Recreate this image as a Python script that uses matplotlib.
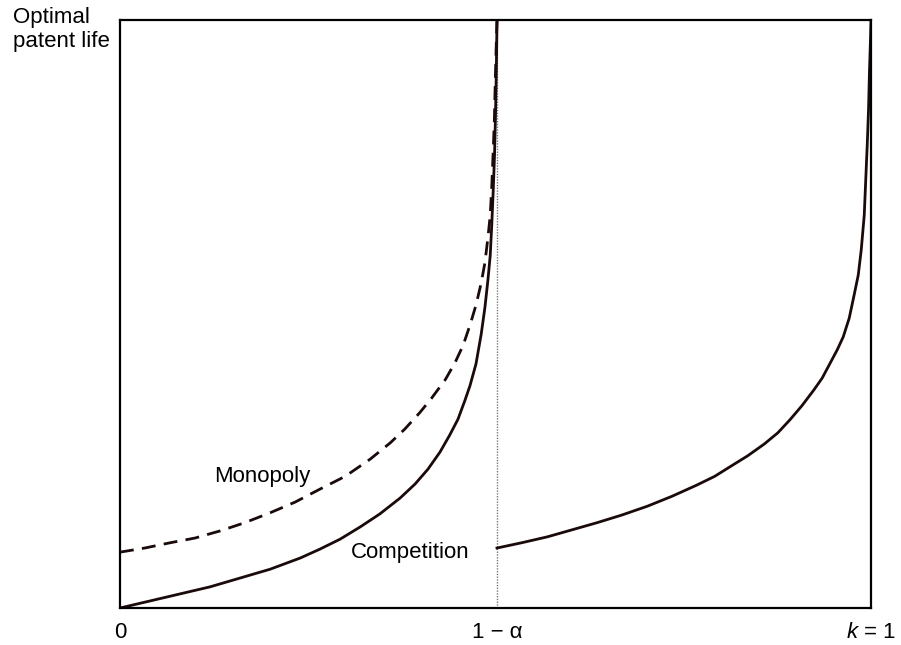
import matplotlib
matplotlib.use("Agg")
import matplotlib.pyplot as plt

plt.rcParams["font.family"] = ["Liberation Sans", "DejaVu Sans"]
plt.rcParams["mathtext.fontset"] = "custom"
plt.rcParams["mathtext.it"] = "Liberation Sans:italic"
plt.rcParams["mathtext.rm"] = "Liberation Sans"

# values (k on x, patent life on y, both scaled 0..1)
kink = 0.502  # position of 1 - alpha
comp_left_k = [0.0, 0.040, 0.080, 0.120, 0.160, 0.200, 0.240, 0.266, 0.293,
               0.320, 0.346, 0.373, 0.393, 0.410, 0.426, 0.439, 0.450, 0.459,
               0.466, 0.474, 0.481, 0.486, 0.490, 0.493, 0.495, 0.497, 0.4987,
               0.5, 0.501, 0.502]
comp_left_life = [0.0, 0.012, 0.024, 0.036, 0.051, 0.066, 0.085, 0.100, 0.117,
                  0.138, 0.160, 0.187, 0.211, 0.236, 0.265, 0.294, 0.321, 0.352,
                  0.378, 0.415, 0.466, 0.512, 0.559, 0.600, 0.651, 0.711, 0.770,
                  0.838, 0.906, 1.0]
mono_k = [0.0, 0.033, 0.067, 0.100, 0.133, 0.166, 0.200, 0.233, 0.266, 0.300,
          0.333, 0.360, 0.379, 0.399, 0.415, 0.433, 0.446, 0.457, 0.466, 0.474,
          0.481, 0.486, 0.490, 0.493, 0.495, 0.497, 0.4985, 0.4995, 0.5008,
          0.502]
mono_life = [0.095, 0.102, 0.111, 0.119, 0.131, 0.145, 0.162, 0.180, 0.202,
             0.224, 0.253, 0.281, 0.304, 0.332, 0.357, 0.388, 0.417, 0.447,
             0.481, 0.515, 0.553, 0.588, 0.631, 0.668, 0.716, 0.779, 0.830,
             0.886, 0.949, 1.0]
comp_right_k = [0.502, 0.535, 0.569, 0.602, 0.635, 0.668, 0.702, 0.735, 0.768,
                0.792, 0.812, 0.836, 0.858, 0.876, 0.892, 0.908, 0.924, 0.935,
                0.945, 0.955, 0.963, 0.971, 0.977, 0.983, 0.987, 0.991, 0.993,
                0.995, 0.9967, 0.998, 0.9993, 1.0]
comp_right_life = [0.102, 0.111, 0.121, 0.133, 0.145, 0.158, 0.173, 0.190,
                   0.209, 0.224, 0.240, 0.259, 0.279, 0.298, 0.320, 0.344,
                   0.371, 0.391, 0.415, 0.439, 0.461, 0.493, 0.529, 0.566,
                   0.609, 0.668, 0.728, 0.788, 0.847, 0.915, 0.966, 1.0]
tick_pos = [0, kink, 1]
tick_labels = ["0", "1 \u2212 \u03b1", "$k$ = 1"]

fig = plt.figure(figsize=(9.01, 6.45), dpi=100)
ax = fig.add_axes([120 / 901, 37 / 645, 751 / 901, 588 / 645])

ax.axvline(kink, color="#777777", lw=1, ls=(0, (1, 1)))
ax.plot(comp_left_k, comp_left_life, color="#1a0a0a", lw=2)
ax.plot(comp_right_k, comp_right_life, color="#1a0a0a", lw=2)
ax.plot(mono_k, mono_life, color="#1a0a0a", lw=2, ls=(0, (5, 3)))

ax.text(0.189, 0.223, "Monopoly", fontsize=16, ha="center", va="center")
ax.text(0.387, 0.095, "Competition", fontsize=16, ha="center", va="center")

ax.set_xlim(0, 1)
ax.set_ylim(0, 1)
ax.set_xticks(tick_pos, tick_labels, fontsize=16)
ax.tick_params(axis="x", length=0, pad=10)
ax.set_yticks([])
for s in ax.spines.values():
    s.set_linewidth(1.6)

fig.text(13 / 901, 1 - 7 / 645, "Optimal\npatent life", fontsize=16,
         ha="left", va="top")

fig.savefig("out.png", dpi=100)
